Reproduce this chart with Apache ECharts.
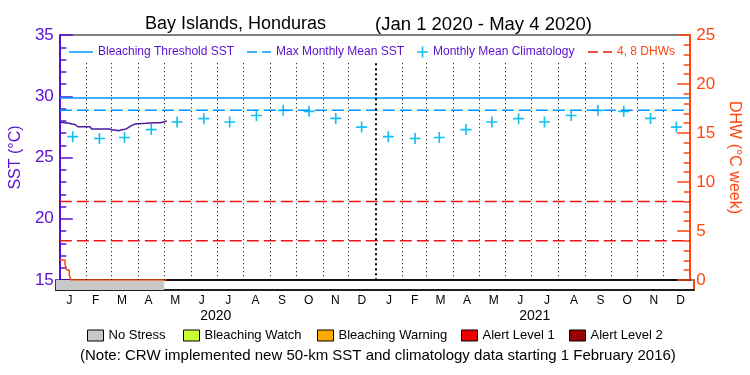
<!DOCTYPE html>
<html><head><meta charset="utf-8">
<script src="https://cdn.jsdelivr.net/npm/echarts@6/dist/echarts.min.js"></script>
<style>html,body{margin:0;padding:0;background:#fff}#c{width:750px;height:375px}</style>
</head><body><div id="c"></div>
<script>
// ---------------- data ----------------
const years = [2020, 2021];
const monthLetters = ['J','F','M','A','M','J','J','A','S','O','N','D'];
const sstDates = ['2020-01-01','2020-01-05','2020-01-07','2020-01-12','2020-01-15','2020-01-18','2020-01-19','2020-01-22',
  '2020-02-05','2020-02-06','2020-02-07','2020-02-28','2020-02-29','2020-03-02','2020-03-03','2020-03-04','2020-03-05',
  '2020-03-07','2020-03-09','2020-03-10','2020-03-12','2020-03-14','2020-03-18','2020-03-20','2020-03-24','2020-03-28',
  '2020-03-30','2020-04-10','2020-04-12','2020-04-16','2020-04-20','2020-04-27','2020-04-29','2020-05-01','2020-05-04'];
const sstValues = [27.87,27.85,27.79,27.79,27.73,27.72,27.57,27.51,
  27.51,27.38,27.33,27.33,27.24,27.24,27.16,27.20,27.24,
  27.10,27.18,27.16,27.24,27.33,27.33,27.47,27.60,27.73,
  27.79,27.79,27.84,27.82,27.84,27.84,27.92,27.92,27.98];
const dhwDates = ['2020-01-01','2020-01-07','2020-01-09','2020-01-12','2020-01-14','2020-05-04'];
const dhwValues = [2.04,1.6,1.02,0.51,0,0];
const climatology = [26.70,26.55,26.63,27.28,27.90,28.17,27.90,28.43,28.85,28.77,28.19,27.48]; // monthly mean, Jan..Dec
const mmm = 28.85;
const bleachingThreshold = 29.85;
const dhwLevels = [4, 8];
const stressNames = ['No Stress','Bleaching Watch','Bleaching Warning','Alert Level 1','Alert Level 2'];
const stressColors = ['#c8c8c8','#ccff33','#ffaa00','#ee0000','#990000'];
const stressPeriods = [{level:0, start:'2020-01-01', end:'2020-05-04'}];
const titleLeft = 'Bay Islands, Honduras';
const titleRight = '(Jan 1 2020 - May 4 2020)';
const note = '(Note: CRW implemented new 50-km SST and climatology data starting 1 February 2016)';

// ---------------- helpers ----------------
const PURPLE='#5a0fd0', ORANGE='#ff4510', BLUE='#0096ff', CYAN='#14c0f0', RED='#ee1515', SSTC='#4b1aa0';
const FONT='"Liberation Sans", Arial, sans-serif';
function ts(s){ const p=s.split('-').map(Number); return new Date(p[0],p[1]-1,p[2]).getTime(); }
const monthStarts=[]; years.forEach(y=>{ for(let m=0;m<12;m++) monthStarts.push(new Date(y,m,1).getTime()); });
const xMin = monthStarts[0], xMax = new Date(years[years.length-1]+1,0,1).getTime();
const monthMids = monthStarts.map((t,i)=>(t+(i+1<monthStarts.length?monthStarts[i+1]:xMax))/2);
const yearMids = years.map(y=>(new Date(y,0,1).getTime()+new Date(y+1,0,1).getTime())/2);
const gridLineTop = 32.7; // dotted month lines start below legend
const boundaryLines = monthStarts.slice(1).map(t=>{
  const isYear = new Date(t).getMonth()===0;
  return [{coord:[t,gridLineTop], lineStyle:isYear?{width:2,type:[2,3],color:'#000'}:{width:1,type:[1,3],color:'#000'}},{coord:[t,15]}];
});
const climData=[]; years.forEach(y=>climatology.forEach((v,m)=>climData.push([new Date(y,m,16).getTime(),v])));
const sstData = sstDates.map((d,i)=>[ts(d),sstValues[i]]);
const dhwData = dhwDates.map((d,i)=>[ts(d),dhwValues[i]]);
const PLUS='path://M4.25,0H5.75V4.25H10V5.75H5.75V10H4.25V5.75H0V4.25H4.25Z';
const SOLID='path://M0,0H24V1.5H0Z';
const DASH='path://M0,0H10V1.5H0Z M15,0H24V1.5H15Z';

function topLegend(name,left,icon,w,h,color){
  return {show:true,data:[name],left:left,top:46,icon:icon,itemWidth:w,itemHeight:h,padding:0,selectedMode:false,
    itemStyle:{borderWidth:0},textStyle:{color:color,fontSize:12,fontFamily:FONT}};
}
const bottomLegendLefts=[87,183,317,461,569];
const bottomLegends = stressNames.map((n,i)=>({show:true,data:[n],left:bottomLegendLefts[i],top:329,icon:'rect',itemWidth:16,itemHeight:11,padding:0,selectedMode:false,
  itemStyle:{borderColor:'#000',borderWidth:1},textStyle:{color:'#000',fontSize:13,fontFamily:FONT}}));

const stressSeries = stressNames.map((n,i)=>({
  name:n,type:'line',xAxisIndex:1,yAxisIndex:2,symbol:'none',silent:true,
  itemStyle:{color:stressColors[i]},lineStyle:{width:0},areaStyle:{color:stressColors[i],opacity:1},
  data:[].concat(...stressPeriods.filter(p=>p.level===i).map(p=>[[ts(p.start),1],[ts(p.end),1]]))
}));

const option = {
  animation:false,
  title:[
    {text:titleLeft,left:140,top:10,textStyle:{fontSize:18,fontWeight:'normal',color:'#000',fontFamily:FONT}},
    {text:titleRight,left:370,top:10,textStyle:{fontSize:18.5,fontWeight:'normal',color:'#000',fontFamily:FONT}},
    {text:note,left:75,top:343,textStyle:{fontSize:15,fontWeight:'normal',color:'#000',fontFamily:FONT}}
  ],
  legend:[
    topLegend('Bleaching Threshold SST',69,SOLID,24,12,PURPLE),
    topLegend('Max Monthly Mean SST',247,DASH,24,12,PURPLE),
    topLegend('Monthly Mean Climatology',417,PLUS,11,11,PURPLE),
    topLegend('4, 8 DHWs',588,DASH,24,12,ORANGE)
  ].concat(bottomLegends),
  grid:[
    {left:56,top:35,width:638,height:245,show:true,borderColor:'#000',borderWidth:1,backgroundColor:'transparent'},
    {left:56,top:280,width:638,height:10,show:true,borderColor:'#000',borderWidth:1,backgroundColor:'transparent'}
  ],
  xAxis:[
    {type:'value',gridIndex:0,min:xMin,max:xMax,axisLine:{show:true,lineStyle:{color:'#000',width:1.5}},axisTick:{show:false},axisLabel:{show:false},splitLine:{show:false}},
    {type:'value',gridIndex:1,min:xMin,max:xMax,axisLine:{show:true,lineStyle:{color:'#000',width:1.5}},axisTick:{show:false},splitLine:{show:false},
      axisLabel:{show:true,customValues:monthMids,margin:5,color:'#000',fontSize:12,fontFamily:FONT,
        formatter:v=>monthLetters[new Date(v).getMonth()]}},
    {type:'value',gridIndex:1,min:xMin,max:xMax,position:'bottom',offset:15,axisLine:{show:false},axisTick:{show:false},splitLine:{show:false},
      axisLabel:{show:true,customValues:yearMids,margin:4,color:'#000',fontSize:14,fontFamily:FONT,
        formatter:v=>String(new Date(v).getFullYear())}}
  ],
  yAxis:[
    {type:'value',gridIndex:0,position:'left',min:15,max:35,interval:5,
      axisLine:{show:true,lineStyle:{color:PURPLE,width:2}},
      axisTick:{show:true,inside:true,length:13,lineStyle:{color:PURPLE,width:1.5}},
      minorTick:{show:true,splitNumber:5,length:6.5,lineStyle:{color:PURPLE,width:1.5}},
      axisLabel:{color:PURPLE,fontSize:17,margin:6,fontFamily:FONT},splitLine:{show:false},
      name:'SST (°C)',nameLocation:'middle',nameGap:31,nameTextStyle:{color:PURPLE,fontSize:16,fontFamily:FONT}},
    {type:'value',gridIndex:0,position:'right',min:0,max:25,interval:5,
      axisLine:{show:true,lineStyle:{color:ORANGE,width:2}},
      axisTick:{show:true,inside:true,length:13,lineStyle:{color:ORANGE,width:1.5}},
      minorTick:{show:true,splitNumber:5,length:6.5,lineStyle:{color:ORANGE,width:1.5}},
      axisLabel:{color:ORANGE,fontSize:17,margin:6,fontFamily:FONT},splitLine:{show:false},
      name:'DHW (°C week)',nameLocation:'middle',nameGap:31,nameRotate:-90,nameTextStyle:{color:ORANGE,fontSize:16,fontFamily:FONT}},
    {type:'value',gridIndex:1,position:'left',min:0,max:1,axisLine:{show:true,lineStyle:{color:PURPLE,width:2}},axisTick:{show:false},axisLabel:{show:false},splitLine:{show:false}},
    {type:'value',gridIndex:1,position:'right',min:0,max:1,axisLine:{show:true,lineStyle:{color:ORANGE,width:2}},axisTick:{show:false},axisLabel:{show:false},splitLine:{show:false}}
  ],
  series:[
    {name:'month lines',type:'line',xAxisIndex:0,yAxisIndex:0,data:[],silent:true,
      markLine:{silent:true,symbol:'none',label:{show:false},animation:false,data:boundaryLines}},
    {name:'Bleaching Threshold SST',type:'line',xAxisIndex:0,yAxisIndex:0,symbol:'none',silent:true,
      itemStyle:{color:BLUE},lineStyle:{color:BLUE,width:1.5},data:[[xMin,bleachingThreshold],[xMax,bleachingThreshold]]},
    {name:'Max Monthly Mean SST',type:'line',xAxisIndex:0,yAxisIndex:0,symbol:'none',silent:true,
      itemStyle:{color:BLUE},lineStyle:{color:BLUE,width:1.5,type:[12,5]},data:[[xMin,mmm],[xMax,mmm]]},
    {name:'4, 8 DHWs',type:'line',xAxisIndex:0,yAxisIndex:1,symbol:'none',silent:true,
      itemStyle:{color:RED},lineStyle:{color:RED,width:1.5,type:[12,5]},data:[[xMin,dhwLevels[0]],[xMax,dhwLevels[0]]]},
    {name:'4, 8 DHWs',type:'line',xAxisIndex:0,yAxisIndex:1,symbol:'none',silent:true,
      itemStyle:{color:RED},lineStyle:{color:RED,width:1.5,type:[12,5]},data:[[xMin,dhwLevels[1]],[xMax,dhwLevels[1]]]},
    {name:'Monthly Mean Climatology',type:'scatter',xAxisIndex:0,yAxisIndex:0,symbol:PLUS,symbolSize:11,silent:true,
      itemStyle:{color:CYAN,opacity:1},data:climData},
    {name:'SST',type:'line',xAxisIndex:0,yAxisIndex:0,symbol:'none',silent:true,
      lineStyle:{color:SSTC,width:1.5},itemStyle:{color:SSTC},data:sstData},
    {name:'DHW',type:'line',xAxisIndex:0,yAxisIndex:1,symbol:'none',silent:true,step:'end',
      lineStyle:{color:ORANGE,width:1.5},itemStyle:{color:ORANGE},data:dhwData}
  ].concat(stressSeries)
};
const chart = echarts.init(document.getElementById('c'),null,{renderer:'canvas'});
chart.setOption(option);
</script>
</body></html>
